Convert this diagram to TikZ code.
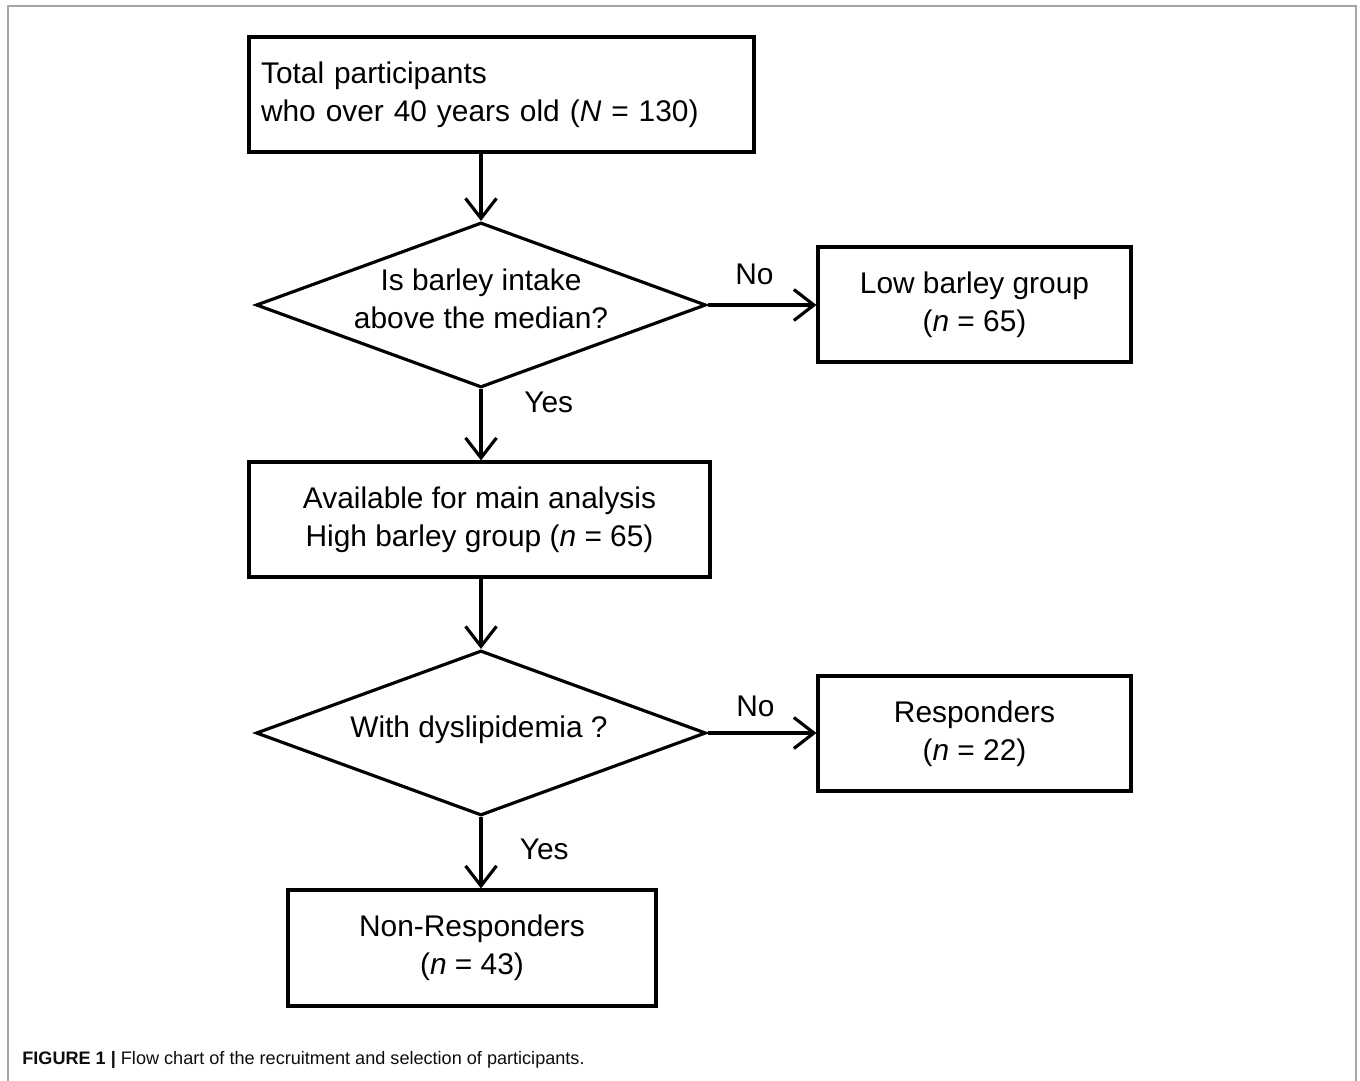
\documentclass[tikz,border=0pt]{standalone}
\usepackage{fontspec}
\setmainfont{Liberation Sans}
\usetikzlibrary{shapes.geometric,arrows.meta}

\tikzset{
  box/.style={draw, line width=1.8pt, minimum height=2.3cm, align=center, inner sep=0pt, font=\fontsize{17}{21.5}\selectfont},
  decision/.style={draw, diamond, line width=1.8pt, minimum width=9cm, minimum height=3.3cm, inner sep=0pt},
  question/.style={align=center, font=\fontsize{17}{21.5}\selectfont},
  answer/.style={font=\fontsize{17}{21.5}\selectfont},
  flow/.style={line width=1.8pt, -{Straight Barb[length=0.4cm,width=0.62cm]}}
}

\begin{document}
\begin{tikzpicture}[x=0.02cm,y=-0.02cm]
  \useasboundingbox (0,0) rectangle (1360,1081);
  \draw[gray!70, line width=1.2pt] (8,1081) -- (8,6) -- (1356,6) -- (1356,1081);

  \node[box, minimum width=10.1cm, text width=9.62cm, align=left] (total) at (501.5,94.5) {Total participants\\who over 40 years old (\textit{N} = 130)};
  \node[decision] (q1) at (481,305) {};
  \node[question] (q1text) at (481,299) {Is barley intake\\above the median?};
  \node[box, minimum width=6.26cm] (low) at (974.5,304.5) {Low barley group\\(\textit{n} = 65)};
  \node[box, minimum width=9.22cm] (avail) at (479.5,519.5) {Available for main analysis\\High barley group (\textit{n} = 65)};
  \node[decision] (q2) at (481,733) {};
  \node[question] (q2text) at (479,730) {With dyslipidemia ?};
  \node[box, minimum width=6.26cm] (resp) at (974.5,733.5) {Responders\\(\textit{n} = 22)};
  \node[box, minimum width=7.36cm, minimum height=2.32cm] (nonresp) at (472,948) {Non-Responders\\(\textit{n} = 43)};

  \draw[flow] (total.south -| q1.north) -- (q1.north);
  \draw[flow] (q1.east) -- node[answer, pos=0.43, above=0.25cm] (no1) {No} (q1.east -| low.west);
  \draw[flow] (q1.south) -- node[answer, pos=0.18, right=0.72cm] (yes1) {Yes} (q1.south |- avail.north);
  \draw[flow] (avail.south -| q2.north) -- (q2.north);
  \draw[flow] (q2.east) -- node[answer, pos=0.44, above=0.17cm] (no2) {No} (q2.east -| resp.west);
  \draw[flow] (q2.south) -- node[answer, pos=0.45, right=0.63cm] (yes2) {Yes} (q2.south |- nonresp.north);

  \node[anchor=west, inner sep=0pt, font=\fontsize{10.3}{12}\selectfont, text=gray!10!black] (caption) at (22,1060) {\textbf{FIGURE 1 |} Flow chart of the recruitment and selection of participants.};
\end{tikzpicture}
\end{document}
